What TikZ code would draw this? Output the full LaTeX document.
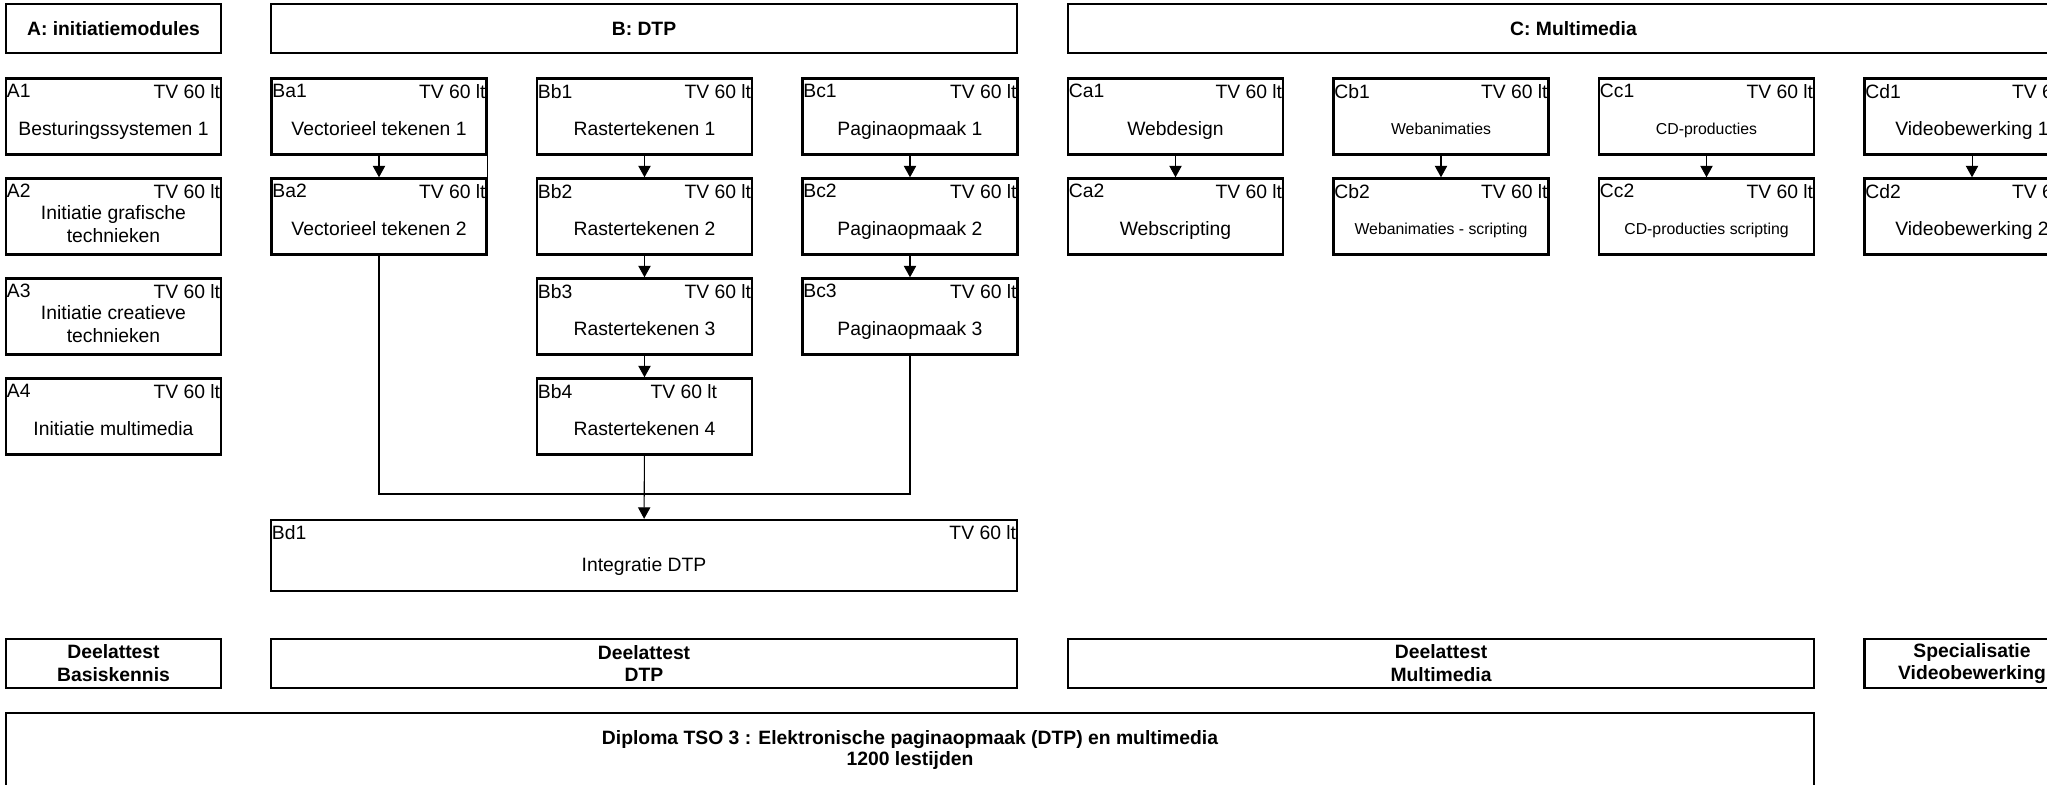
\documentclass[tikz,border=0pt]{standalone}
\usepackage{fontspec}
\setmainfont{Liberation Sans}
\usetikzlibrary{arrows.meta}

\tikzset{
  cellbox/.style={draw, line width=1.4pt, inner sep=0pt, minimum width=4.3cm},
  headbox/.style={cellbox, minimum height=0.98cm, align=center, font=\bfseries\fontsize{11}{13}\selectfont},
  modframe/.style={cellbox, minimum height=1.52cm},
  idtext/.style={font=\fontsize{11}{13}\selectfont, inner xsep=1pt, inner ysep=3.8pt},
  titletext/.style={anchor=center, font=\fontsize{11}{13}\selectfont, text height=8.25pt, text depth=2.4pt, yshift=-0.28cm},
  titleii/.style={anchor=center, align=center, font=\fontsize{11}{13}\selectfont, yshift=-0.15cm},
  titlesm/.style={anchor=center, font=\fontsize{9}{11}\selectfont, text height=6.8pt, text depth=2pt, yshift=-0.28cm},
  modgen/.style n args={3}{modframe,
    label={[idtext, anchor=north west]north west:#1},
    label={[idtext, anchor=north east]north east:TV 60 lt},
    label={[#3]center:#2}},
  module/.style 2 args={modgen={#1}{#2}{titletext}},
  modii/.style 2 args={modgen={#1}{#2}{titleii}},
  modsm/.style 2 args={modgen={#1}{#2}{titlesm}},
  conn/.style={line width=0.6pt},
  arr/.style={conn, -{Triangle[width=7pt,length=6.5pt]}}
}

\begin{document}
\begin{tikzpicture}[x=0.02cm, y=-0.02cm]
\useasboundingbox[fill=white] (0,0) rectangle (2047,784);

% Headers
\node[headbox] (Ahead) at (113.5,28.5) {A: initiatiemodules};
\node[headbox, minimum width=14.92cm] (Bhead) at (644,28.5) {B: DTP};
\node[headbox, minimum width=20.22cm] (Chead) at (1573.5,28.5) {C: Multimedia};

% A: initiatiemodules
\node[module={A1}{Besturingssystemen 1}] (A1) at (113.5,116.5) {};
\node[modii={A2}{Initiatie grafische\\technieken}] (A2) at (113.5,216.5) {};
\node[modii={A3}{Initiatie creatieve\\technieken}] (A3) at (113.5,316.5) {};
\node[module={A4}{Initiatie multimedia}] (A4) at (113.5,416.5) {};

% B: DTP
\node[module={Ba1}{Vectorieel tekenen 1}] (Ba1) at (379,116.5) {};
\node[module={Ba2}{Vectorieel tekenen 2}] (Ba2) at (379,216.5) {};
\node[module={Bb1}{Rastertekenen 1}] (Bb1) at (644.5,116.5) {};
\node[module={Bb2}{Rastertekenen 2}] (Bb2) at (644.5,216.5) {};
\node[module={Bb3}{Rastertekenen 3}] (Bb3) at (644.5,316.5) {};
\node[modframe, label={[idtext, anchor=north west]north west:Bb4},
  label={[idtext, anchor=north east, xshift=-0.68cm]north east:TV 60 lt},
  label={[titletext]center:Rastertekenen 4}] (Bb4) at (644.5,416.5) {};
\node[module={Bc1}{Paginaopmaak 1}] (Bc1) at (910,116.5) {};
\node[module={Bc2}{Paginaopmaak 2}] (Bc2) at (910,216.5) {};
\node[module={Bc3}{Paginaopmaak 3}] (Bc3) at (910,316.5) {};
\node[modframe, minimum width=14.92cm, minimum height=1.42cm,
  label={[idtext, anchor=north west]north west:Bd1},
  label={[idtext, anchor=north east]north east:TV 60 lt},
  label={[titletext, yshift=0.07cm]center:Integratie DTP}] (Bd1) at (644,555.5) {};

% C: Multimedia
\node[module={Ca1}{Webdesign}] (Ca1) at (1175.5,116.5) {};
\node[module={Ca2}{Webscripting}] (Ca2) at (1175.5,216.5) {};
\node[modsm={Cb1}{Webanimaties}] (Cb1) at (1441,116.5) {};
\node[modsm={Cb2}{Webanimaties - scripting}] (Cb2) at (1441,216.5) {};
\node[modsm={Cc1}{CD-producties}] (Cc1) at (1706.5,116.5) {};
\node[modsm={Cc2}{CD-producties scripting}] (Cc2) at (1706.5,216.5) {};
\node[module={Cd1}{Videobewerking 1}] (Cd1) at (1972,116.5) {};
\node[module={Cd2}{Videobewerking 2}] (Cd2) at (1972,216.5) {};

% Arrows
\draw[arr] (Ba1) -- (Ba2);
\draw[conn] (Ba1.south east) -- (Ba2.north east);
\draw[arr] (Bb1) -- (Bb2);
\draw[arr] (Bb2) -- (Bb3);
\draw[arr] (Bb3) -- (Bb4);
\draw[arr] (Bc1) -- (Bc2);
\draw[arr] (Bc2) -- (Bc3);
\draw[arr] (Ca1) -- (Ca2);
\draw[arr] (Cb1) -- (Cb2);
\draw[arr] (Cc1) -- (Cc2);
\draw[arr] (Cd1) -- (Cd2);

% Merge into Bd1
\coordinate (mergeL) at (379,494);
\coordinate (mergeR) at (910,494);
\draw[conn] (Ba2) -- (mergeL) -- (mergeR) -- (Bc3);
\draw[arr] (Bb4) -- (Bd1);

% Deelattesten
\node[headbox] (DAbasis) at (113.5,663.5) {Deelattest\\Basiskennis};
\node[headbox, minimum width=14.92cm] (DAdtp) at (644,663.5) {Deelattest\\DTP};
\node[headbox, minimum width=14.92cm] (DAmm) at (1441,663.5) {Deelattest\\Multimedia};
\node[headbox] (SPvideo) at (1972,663.5) {Specialisatie\\Videobewerking};

% Diploma
\node[headbox, minimum width=36.16cm, minimum height=1.48cm, font=\bfseries\fontsize{11}{12}\selectfont] (diploma) at (910,750)
  {Diploma TSO 3 : Elektronische paginaopmaak (DTP) en multimedia\\1200 lestijden};

\end{tikzpicture}
\end{document}
